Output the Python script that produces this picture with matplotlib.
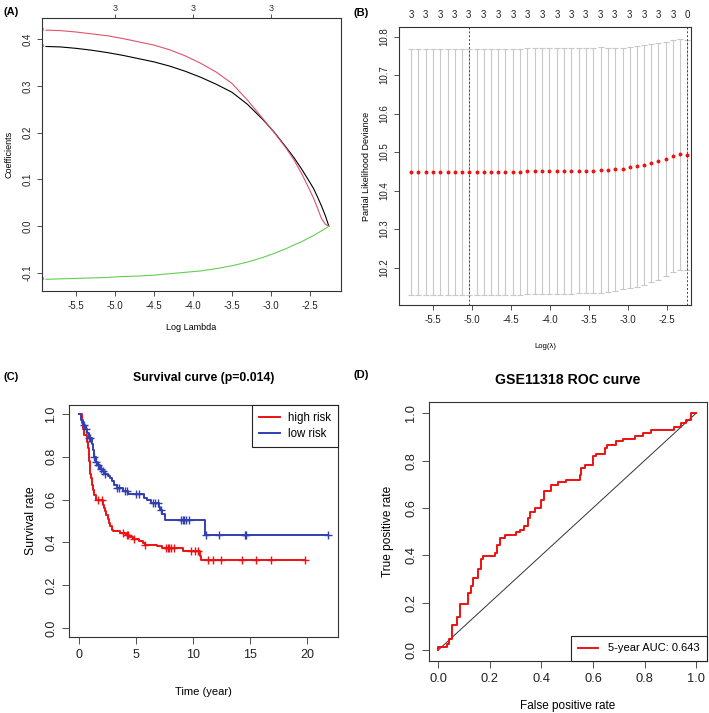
import numpy as np
import matplotlib
matplotlib.use("Agg")
import matplotlib.pyplot as plt

plt.rcParams['font.family'] = ['Liberation Sans', 'DejaVu Sans']

# ---------------- Panel A: LASSO coefficient paths ----------------
a_loglam = [-5.885, -5.7, -5.5, -5.3, -5.1, -4.9, -4.7, -4.5, -4.3, -4.1, -3.9, -3.7, -3.5,
            -3.3, -3.1, -2.95, -2.8, -2.7, -2.6, -2.5, -2.45, -2.4, -2.35, -2.3, -2.256]
a_coef1 = [0.385, 0.384, 0.381, 0.377, 0.372, 0.366, 0.359, 0.352, 0.343, 0.332, 0.319, 0.304, 0.287,
           0.261, 0.228, 0.200, 0.168, 0.146, 0.121, 0.094, 0.080, 0.062, 0.043, 0.022, 0.0]
a_coef2 = [0.420, 0.419, 0.416, 0.412, 0.408, 0.402, 0.395, 0.388, 0.378, 0.365, 0.349, 0.330, 0.306,
           0.270, 0.230, 0.199, 0.166, 0.141, 0.111, 0.077, 0.059, 0.038, 0.016, 0.004, 0.0]
a_coef3 = [-0.114, -0.113, -0.112, -0.111, -0.110, -0.108, -0.107, -0.105, -0.102, -0.099, -0.096, -0.091, -0.085,
           -0.077, -0.067, -0.058, -0.048, -0.040, -0.033, -0.024, -0.020, -0.015, -0.010, -0.005, 0.0]
a_top_ticks = [-5.0, -4.0, -3.0]
a_top_labels = ['3', '3', '3']

# ---------------- Panel B: cross-validation ----------------
b_loglam = [-5.78, -5.69, -5.59, -5.50, -5.41, -5.31, -5.22, -5.13, -5.04, -4.94,
            -4.85, -4.75, -4.66, -4.57, -4.47, -4.38, -4.29, -4.19, -4.10, -4.01,
            -3.91, -3.82, -3.73, -3.63, -3.54, -3.45, -3.35, -3.26, -3.17, -3.07,
            -2.98, -2.89, -2.79, -2.70, -2.61, -2.51, -2.42, -2.33, -2.24]
b_cvm = [10.449, 10.449, 10.449, 10.449, 10.449, 10.449, 10.449, 10.449, 10.449, 10.449,
         10.449, 10.449, 10.449, 10.449, 10.449, 10.449, 10.450, 10.450, 10.450, 10.450,
         10.451, 10.451, 10.451, 10.452, 10.452, 10.452, 10.453, 10.454, 10.455, 10.457,
         10.460, 10.463, 10.467, 10.471, 10.476, 10.483, 10.490, 10.494, 10.493]
b_cvsd = [0.319, 0.319, 0.319, 0.319, 0.319, 0.319, 0.319, 0.319, 0.319, 0.319,
          0.319, 0.319, 0.319, 0.319, 0.319, 0.319, 0.319, 0.319, 0.319, 0.319,
          0.319, 0.319, 0.319, 0.319, 0.319, 0.319, 0.319, 0.317, 0.315, 0.313,
          0.312, 0.312, 0.311, 0.309, 0.307, 0.304, 0.302, 0.300, 0.298]
b_nz = [3] * 38 + [0]
b_lambda_min = -5.04
b_lambda_1se = -2.24

# ---------------- Panel C: Kaplan-Meier ----------------
hi_t = [0, 0.25, 0.35, 0.45, 0.7, 0.75, 0.85, 0.9, 0.95, 1.0, 1.05, 1.15, 1.25, 1.35, 1.45,
        2.1, 2.2, 2.3, 2.4, 2.5, 2.6, 2.7, 2.85, 3.0, 3.6, 4.1, 4.4, 4.7, 5.3, 5.6, 5.8,
        6.8, 7.3, 9.1, 10.6, 10.7]
hi_s = [1.0, 0.96, 0.93, 0.90, 0.87, 0.84, 0.81, 0.78, 0.75, 0.72, 0.70, 0.67, 0.645, 0.62, 0.60,
        0.575, 0.56, 0.545, 0.53, 0.51, 0.49, 0.475, 0.46, 0.452, 0.445, 0.435, 0.425, 0.415, 0.405, 0.398, 0.389,
        0.382, 0.375, 0.358, 0.335, 0.319]
hi_end = 19.8
hi_cens = [1.7, 2.0, 3.9, 4.2, 4.3, 4.8, 5.8, 7.6, 7.8, 7.9, 8.1, 8.3, 9.8, 10.2, 10.4,
           11.3, 11.7, 12.4, 14.3, 15.5, 16.8, 19.8]

lo_t = [0, 0.2, 0.35, 0.5, 0.7, 0.9, 1.1, 1.2, 1.3, 1.45, 1.55, 1.8, 2.0, 2.2, 2.5, 2.7, 2.9,
        3.1, 3.3, 3.9, 4.3, 5.7, 6.0, 6.3, 7.0, 7.1, 7.3, 7.5, 11.05]
lo_s = [1.0, 0.97, 0.95, 0.93, 0.91, 0.89, 0.86, 0.83, 0.80, 0.775, 0.76, 0.745, 0.735, 0.72, 0.71, 0.70, 0.685,
        0.67, 0.655, 0.64, 0.625, 0.61, 0.598, 0.585, 0.565, 0.55, 0.535, 0.507, 0.435]
lo_end = 21.8
lo_cens = [0.4, 0.6, 0.9, 1.0, 1.3, 1.5, 1.7, 1.9, 2.1, 2.3, 3.3, 3.5, 4.0, 4.2, 5.0, 5.3,
           6.5, 6.7, 6.9, 7.2, 8.9, 9.1, 9.2, 9.4, 9.6, 11.1, 12.3, 14.5, 14.6, 21.8]

# ---------------- Panel D: ROC ----------------
roc_fpr = [0.0, 0.032, 0.043, 0.052, 0.074, 0.084, 0.116, 0.125, 0.135, 0.155, 0.164, 0.174,
           0.219, 0.228, 0.239, 0.258, 0.303, 0.316, 0.332, 0.348, 0.357, 0.374, 0.400, 0.409,
           0.439, 0.465, 0.494, 0.548, 0.555, 0.568, 0.600, 0.610, 0.645, 0.654, 0.690, 0.716,
           0.761, 0.794, 0.826, 0.916, 0.942, 0.961, 0.981, 1.0]
roc_tpr = [0.0, 0.011, 0.025, 0.046, 0.105, 0.140, 0.194, 0.240, 0.271, 0.306, 0.341, 0.383,
           0.397, 0.411, 0.442, 0.474, 0.484, 0.498, 0.506, 0.523, 0.558, 0.582, 0.600, 0.635,
           0.670, 0.696, 0.708, 0.717, 0.741, 0.769, 0.783, 0.818, 0.829, 0.853, 0.867, 0.881,
           0.892, 0.902, 0.916, 0.927, 0.941, 0.958, 0.972, 1.0]
auc_label = "5-year AUC: 0.643"

# ================= drawing =================
W, H = 709, 713
fig = plt.figure(figsize=(W / 100, H / 100), dpi=100)

def box(l, r, t, b):
    return [l / W, 1 - b / H, (r - l) / W, (b - t) / H]

AX_COL = '#333333'

def rstyle(ax, fs, tl=3.5):
    for s in ax.spines.values():
        s.set_color(AX_COL)
        s.set_linewidth(0.8)
    ax.tick_params(direction='out', length=tl, width=0.6, colors=AX_COL,
                   labelsize=fs, labelcolor='#222222')
    ax.tick_params(axis='y', labelrotation=90)
    for lb in ax.get_yticklabels():
        lb.set_va('center')

# ---- A ----
axA = fig.add_axes(box(42, 341, 18, 291))
axA.plot(a_loglam, a_coef1, color='black', lw=0.8)
axA.plot(a_loglam, a_coef2, color='#DF536B', lw=0.8)
axA.plot(a_loglam, a_coef3, color='#61D04F', lw=0.8)
axA.set_xlim(-5.936, -2.10)
axA.set_ylim(-0.139, 0.446)
axA.set_xticks([-5.5, -5.0, -4.5, -4.0, -3.5, -3.0, -2.5])
axA.set_xticklabels(['-5.5', '-5.0', '-4.5', '-4.0', '-3.5', '-3.0', '-2.5'])
axA.set_yticks([-0.1, 0.0, 0.1, 0.2, 0.3, 0.4])
axA.set_yticklabels(['-0.1', '0.0', '0.1', '0.2', '0.3', '0.4'])
rstyle(axA, 7)
for lb in axA.get_yticklabels():
    lb.set_va('center')
for v, lab in zip([a_coef1[0], a_coef2[0], a_coef3[0]], ['1', '2', '3']):
    axA.text(a_loglam[0] - 0.03, v, lab, fontsize=3, ha='right', va='center', color='#333333')
secA = axA.secondary_xaxis('top')
secA.set_xticks(a_top_ticks)
secA.set_xticklabels(a_top_labels)
secA.tick_params(direction='out', length=3, width=0.6, colors=AX_COL, labelsize=6.5, pad=0.5)
secA.spines['top'].set_visible(False)
axA.set_xlabel('Log Lambda', fontsize=6.5, labelpad=9)
axA.set_ylabel('Coefficients', fontsize=6.5, labelpad=6)
fig.text(3 / W, 1 - 12 / H, '(A)', fontsize=8, fontweight='bold', va='center', ha='left')

# ---- B ----
axB = fig.add_axes(box(399.3, 690.7, 27.3, 305))
axB.errorbar(b_loglam, b_cvm, yerr=b_cvsd, fmt='none', ecolor='#C8C8C8',
             elinewidth=0.8, capsize=2.3, capthick=0.8)
axB.plot(b_loglam, b_cvm, 'o', color='#EE1111', ms=2.8, mec='none')
axB.axvline(b_lambda_min, color='#444444', ls=(0, (2, 2)), lw=0.7)
axB.axvline(b_lambda_1se, color='#444444', ls=(0, (2, 2)), lw=0.7)
axB.set_xlim(-5.93, -2.197)
axB.set_ylim(10.103, 10.824)
axB.set_xticks([-5.5, -5.0, -4.5, -4.0, -3.5, -3.0, -2.5])
axB.set_xticklabels(['-5.5', '-5.0', '-4.5', '-4.0', '-3.5', '-3.0', '-2.5'])
axB.set_yticks([10.2, 10.3, 10.4, 10.5, 10.6, 10.7, 10.8])
axB.set_yticklabels(['10.2', '10.3', '10.4', '10.5', '10.6', '10.7', '10.8'])
rstyle(axB, 7)
for lb in axB.get_yticklabels():
    lb.set_va('center')
secB = axB.secondary_xaxis('top')
secB.set_xticks(b_loglam[::2])
secB.set_xticklabels([str(n) for n in b_nz[::2]])
secB.tick_params(length=0, labelsize=7, pad=5.5, labelcolor='#222222')
secB.spines['top'].set_visible(False)
axB.set_xlabel('Log(λ)', fontsize=5.5, labelpad=13)
axB.set_ylabel('Partial Likelihood Deviance', fontsize=6.5, labelpad=6)
fig.text(353 / W, 1 - 13 / H, '(B)', fontsize=8, fontweight='bold', va='center', ha='left')

# ---- C ----
axC = fig.add_axes(box(69, 338.3, 405, 636.7))
RED = '#EE1111'
BLUE = '#3040B0'
for t, s, end, cens, col, lab in [(hi_t, hi_s, hi_end, hi_cens, RED, 'high risk'),
                                   (lo_t, lo_s, lo_end, lo_cens, BLUE, 'low risk')]:
    tt = list(t) + [end]
    ss = list(s) + [s[-1]]
    axC.step(tt, ss, where='post', color=col, lw=1.4, label=lab)
    idx = np.searchsorted(np.array(t), np.array(cens), side='right') - 1
    axC.plot(cens, np.array(s)[idx], '+', color=col, ms=6, mew=1.0)
axC.set_xlim(-0.87, 22.7)
axC.set_ylim(-0.04, 1.042)
axC.set_xticks([0, 5, 10, 15, 20])
axC.set_yticks([0.0, 0.2, 0.4, 0.6, 0.8, 1.0])
axC.set_yticklabels(['0.0', '0.2', '0.4', '0.6', '0.8', '1.0'])
rstyle(axC, 9, tl=5)
for lb in axC.get_yticklabels():
    lb.set_va('center')
axC.set_xlabel('Time (year)', fontsize=8, labelpad=19)
axC.set_ylabel('Survival rate', fontsize=8.8, labelpad=6)
axC.set_title('Survival curve (p=0.014)', fontsize=8.8, fontweight='bold', pad=17)
legC = axC.legend(loc='upper right', borderaxespad=0, fancybox=False, edgecolor='#222222',
                  framealpha=1, fontsize=8.3, handlelength=1.8, handletextpad=0.75,
                  borderpad=0.6, labelspacing=0.35)
legC.get_frame().set_linewidth(0.8)
fig.text(4 / W, 1 - 377 / H, '(C)', fontsize=8, fontweight='bold', va='center', ha='left')

# ---- D ----
axD = fig.add_axes(box(429, 706.7, 402.3, 660.7))
axD.plot([0, 1], [0, 1], color='#333333', lw=0.7)
axD.plot(roc_fpr, roc_tpr, drawstyle='steps-pre', color=RED, lw=1.4, label=auc_label)
axD.set_xlim(-0.036, 1.041)
axD.set_ylim(-0.045, 1.046)
axD.set_xticks([0.0, 0.2, 0.4, 0.6, 0.8, 1.0])
axD.set_xticklabels(['0.0', '0.2', '0.4', '0.6', '0.8', '1.0'])
axD.set_yticks([0.0, 0.2, 0.4, 0.6, 0.8, 1.0])
axD.set_yticklabels(['0.0', '0.2', '0.4', '0.6', '0.8', '1.0'])
rstyle(axD, 9.3, tl=5)
for lb in axD.get_yticklabels():
    lb.set_va('center')
axD.set_xlabel('False positive rate', fontsize=8.5, labelpad=11)
axD.set_ylabel('True positive rate', fontsize=8.6, labelpad=8)
axD.set_title('GSE11318 ROC curve', fontsize=10.2, fontweight='bold', pad=13)
legD = axD.legend(loc='lower right', borderaxespad=0, fancybox=False, edgecolor='#222222',
                  framealpha=1, fontsize=8, handlelength=1.8, handletextpad=0.9,
                  borderpad=0.65)
legD.get_frame().set_linewidth(0.8)
fig.text(353 / W, 1 - 375 / H, '(D)', fontsize=8, fontweight='bold', va='center', ha='left')

fig.savefig('out.png', dpi=100)
